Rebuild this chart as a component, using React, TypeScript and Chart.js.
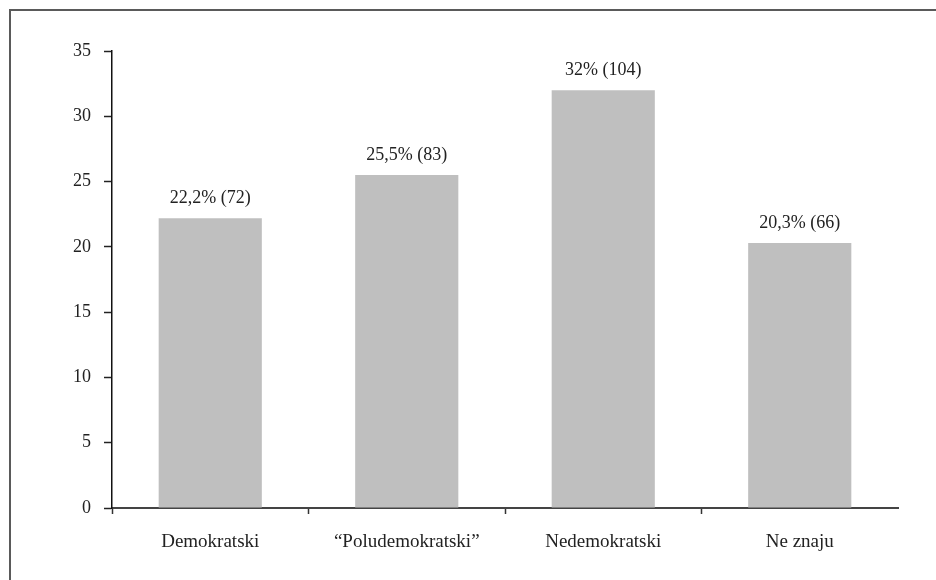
import React, { useEffect, useRef } from "react";
import { Chart, registerables } from "chart.js";

Chart.register(...registerables);

const categories = ["Demokratski", "\u201CPoludemokratski\u201D", "Nedemokratski", "Ne znaju"];
const percentValues = [22.2, 25.5, 32, 20.3];
const counts = [72, 83, 104, 66];
const yTicks = [0, 5, 10, 15, 20, 25, 30, 35];

const FONT = "'Liberation Serif', 'Times New Roman', serif";
const TEXT = "#222222";

const barLabelPlugin = {
  id: "barLabels",
  afterDatasetsDraw(chart: any) {
    const ctx = chart.ctx;
    const meta = chart.getDatasetMeta(0);
    ctx.save();
    ctx.font = `18px ${FONT}`;
    ctx.fillStyle = TEXT;
    ctx.textAlign = "center";
    ctx.textBaseline = "bottom";
    meta.data.forEach((bar: any, i: number) => {
      const pct = String(percentValues[i]).replace(".", ",");
      ctx.fillText(`${pct}% (${counts[i]})`, bar.x, bar.y - 11);
    });
    ctx.restore();
  },
};

export default function App() {
  const ref = useRef<HTMLCanvasElement | null>(null);

  useEffect(() => {
    if (!ref.current) return;
    const chart = new Chart(ref.current, {
      type: "bar",
      data: {
        labels: categories,
        datasets: [
          {
            data: percentValues,
            backgroundColor: "#bfbfbf",
            borderWidth: 0,
            categoryPercentage: 1,
            barPercentage: 0.525,
          },
        ],
      },
      options: {
        animation: false,
        responsive: false,
        maintainAspectRatio: false,
        layout: { padding: { left: 30, top: 51, right: 38, bottom: 0 } },
        plugins: {
          legend: { display: false },
          tooltip: { enabled: false },
        },
        scales: {
          x: {
            type: "category",
            offset: true,
            border: { display: true, color: "#444444", width: 2 },
            grid: {
              display: true,
              offset: true,
              drawOnChartArea: false,
              drawTicks: true,
              tickLength: 6,
              tickWidth: 1.5,
              tickColor: (c: any) => (c.tick && c.index < categories.length ? "#333333" : "rgba(0,0,0,0)"),
            },
            ticks: {
              color: TEXT,
              font: { family: FONT, size: 19 },
              padding: 17,
              maxRotation: 0,
              autoSkip: false,
            },
            afterFit(scale: any) {
              scale.height = 72;
            },
          },
          y: {
            type: "linear",
            min: yTicks[0],
            max: yTicks[yTicks.length - 1],
            border: { display: true, color: "#111111", width: 1.5 },
            grid: {
              display: true,
              drawOnChartArea: false,
              drawTicks: true,
              tickLength: 8,
              tickWidth: 1.5,
              tickColor: "#222222",
            },
            afterBuildTicks(scale: any) {
              scale.ticks = yTicks.map((v) => ({ value: v }));
            },
            ticks: {
              color: TEXT,
              font: { family: FONT, size: 18 },
              padding: 13,
            },
            afterFit(scale: any) {
              scale.width = 82;
            },
          },
        },
      },
      plugins: [barLabelPlugin],
    });
    return () => chart.destroy();
  }, []);

  return (
    <div style={{ position: "fixed", left: 0, top: 0, width: 936, height: 580, background: "#fff" }}>
      <div
        style={{
          position: "absolute",
          left: 9,
          top: 9,
          width: 1000,
          height: 1000,
          borderTop: "2px solid #5a5a5a",
          borderLeft: "2px solid #5a5a5a",
          boxSizing: "border-box",
        }}
      />
      <canvas ref={ref} width={936} height={580} style={{ position: "absolute", left: 0, top: 0, width: 936, height: 580 }} />
    </div>
  );
}
